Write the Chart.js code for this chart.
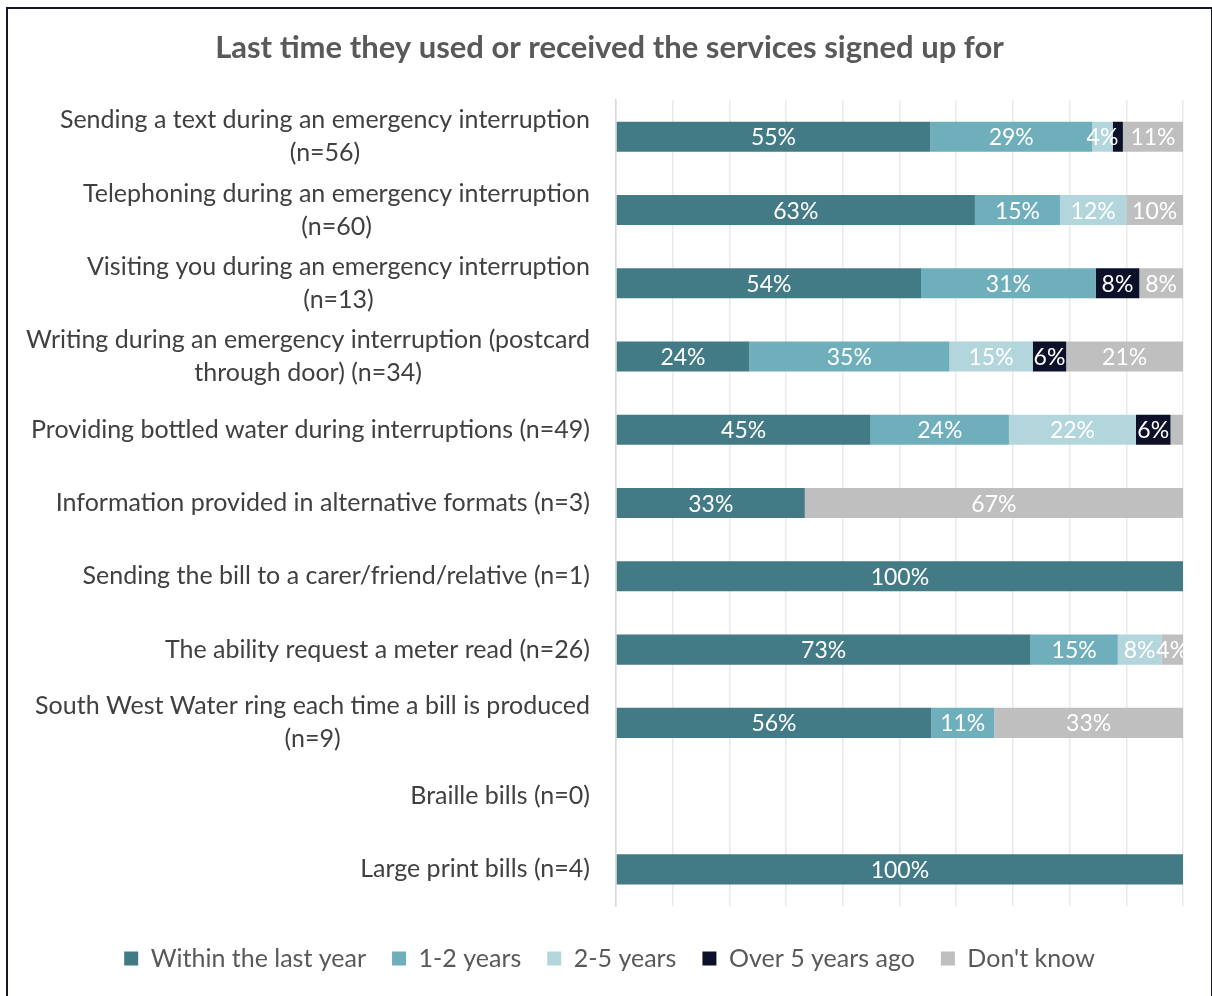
<!DOCTYPE html>
<html>
<head>
<meta charset="utf-8">
<script src="https://cdn.jsdelivr.net/npm/chart.js@4.4.1/dist/chart.umd.min.js"></script>
<style>
  body { margin: 0; background: #fff; }
  #frame {
    position: absolute; left: 6px; top: 7px;
    width: 1203px; height: 995px;
    border: 2px solid #14162a; background: #fff;
  }
</style>
</head>
<body>
<div id="frame"><canvas id="myChart" width="1203" height="995"></canvas></div>
<script>
const categories = [
  ['Sending a text during an emergency interruption', '(n=56)'],
  ['Telephoning during an emergency interruption', '(n=60)'],
  ['Visiting you during an emergency interruption', '(n=13)'],
  ['Writing during an emergency interruption (postcard', 'through door) (n=34)'],
  ['Providing bottled water during interruptions (n=49)'],
  ['Information provided in alternative formats (n=3)'],
  ['Sending the bill to a carer/friend/relative (n=1)'],
  ['The ability request a meter read (n=26)'],
  ['South West Water ring each time a bill is produced', '(n=9)'],
  ['Braille bills (n=0)'],
  ['Large print bills (n=4)'],
];

// shares of respondents, in %
const withinYear = [55.4, 63.3, 53.8, 23.5, 44.9, 33.3, 100, 73.1, 55.6, 0, 100];
const oneToTwo   = [28.6, 15.0, 30.8, 35.3, 24.4, 0, 0, 15.4, 11.1, 0, 0];
const twoToFive  = [3.6, 11.7, 0, 14.7, 22.4, 0, 0, 7.7, 0, 0, 0];
const overFive   = [1.8, 0, 7.7, 5.9, 6.1, 0, 0, 0, 0, 0, 0];
const dontKnow   = [10.6, 10.0, 7.7, 20.6, 2.2, 66.7, 0, 3.8, 33.3, 0, 0];

const seriesNames = ['Within the last year', '1-2 years', '2-5 years', 'Over 5 years ago', "Don't know"];
const seriesColors = ['#427a86', '#6eafbb', '#b3d6dd', '#0d1029', '#bfbfbf'];

const FONT = 'Lato, "Open Sans", sans-serif';

// category names drawn left of the plot, each block right-aligned, lines centred within it
const categoryLabels = {
  id: 'categoryLabels',
  afterDraw(chart) {
    const { ctx } = chart;
    const y = chart.scales.y;
    const right = chart.chartArea.left - 26;
    const lineH = 33;
    ctx.save();
    ctx.font = '25px ' + FONT;
    ctx.fillStyle = '#404040';
    ctx.textAlign = 'center';
    ctx.textBaseline = 'middle';
    categories.forEach((lines, i) => {
      const widest = Math.max(...lines.map((l) => ctx.measureText(l).width));
      const cx = right - widest / 2;
      const cy = y.getPixelForTick(i);
      lines.forEach((l, k) => {
        ctx.fillText(l, cx, cy + (k - (lines.length - 1) / 2) * lineH);
      });
    });
    ctx.restore();
  },
};

// white percentage labels in the middle of each segment
const segmentLabels = {
  id: 'segmentLabels',
  afterDatasetsDraw(chart) {
    const { ctx, chartArea } = chart;
    ctx.save();
    ctx.beginPath();
    ctx.rect(chartArea.left, chartArea.top, chartArea.right - chartArea.left, chartArea.bottom - chartArea.top);
    ctx.clip();
    ctx.font = '23px ' + FONT;
    ctx.fillStyle = '#ffffff';
    ctx.textAlign = 'center';
    ctx.textBaseline = 'middle';
    chart.data.datasets.forEach((ds, di) => {
      const meta = chart.getDatasetMeta(di);
      meta.data.forEach((bar, i) => {
        const v = ds.data[i];
        if (v < 3) return;
        const { x, y, base } = bar.getProps(['x', 'y', 'base'], true);
        ctx.fillText(Math.round(v) + '%', (x + base) / 2, y + 1);
      });
    });
    ctx.restore();
  },
};

const data = {
  labels: categories.map((c) => c.join(' ')),
  datasets: [withinYear, oneToTwo, twoToFive, overFive, dontKnow].map((vals, i) => ({
    label: seriesNames[i],
    data: vals,
    backgroundColor: seriesColors[i],
    borderWidth: 0,
    categoryPercentage: 1,
    barPercentage: 0.41,
  })),
};

new Chart(document.getElementById('myChart'), {
  type: 'bar',
  data,
  options: {
    indexAxis: 'y',
    responsive: false,
    animation: false,
    layout: { padding: { left: 28, right: 28, bottom: 23 } },
    scales: {
      x: {
        stacked: true,
        min: 0,
        max: 100,
        ticks: { display: false, stepSize: 10 },
        grid: { color: '#e9e9e9', lineWidth: 1.5, drawTicks: false },
        border: { display: false },
        afterFit(scale) { scale.height = 14; },
      },
      y: {
        stacked: true,
        ticks: { display: false },
        grid: { display: false, drawTicks: false },
        border: { display: true, color: '#d9d9d9', width: 1.5 },
        afterFit(scale) { scale.width = 580; },
      },
    },
    plugins: {
      title: {
        display: true,
        text: 'Last time they used or received the services signed up for',
        color: '#595959',
        font: { family: FONT, size: 31, weight: 'bold' },
        padding: { top: 20, bottom: 34 },
      },
      legend: {
        position: 'bottom',
        labels: {
          color: '#595959',
          font: { family: FONT, size: 25 },
          boxWidth: 14,
          boxHeight: 14,
          padding: 26,
        },
      },
      tooltip: { enabled: false },
    },
  },
  plugins: [categoryLabels, segmentLabels],
});
</script>
</body>
</html>
